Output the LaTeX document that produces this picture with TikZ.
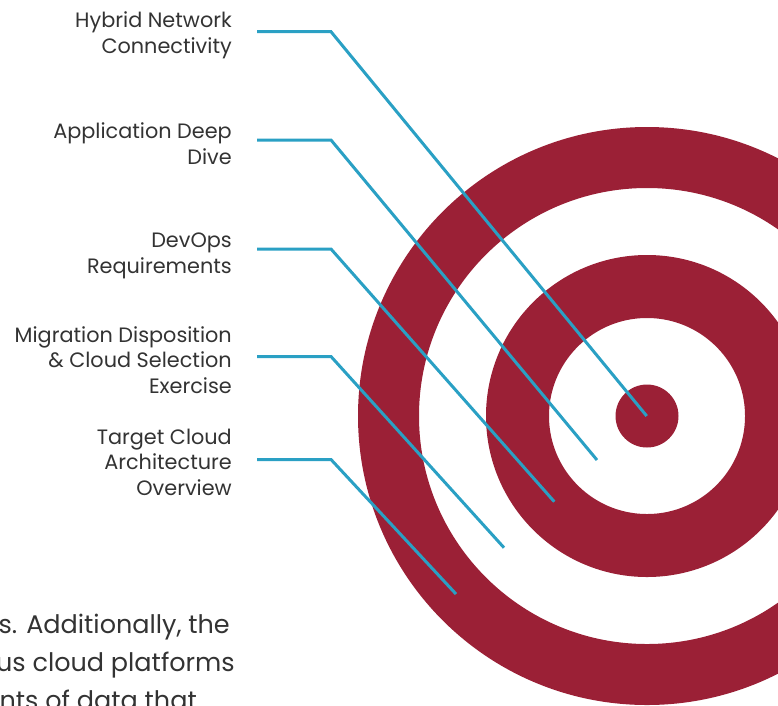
\documentclass[tikz,border=0pt]{standalone}
\usepackage{fontspec}
\setmainfont{Poppins}
\definecolor{ringred}{HTML}{9B2036}
\definecolor{lineblue}{HTML}{2AA0C4}
\definecolor{txt}{HTML}{333333}
\begin{document}
\begin{tikzpicture}[x=1pt,y=-1pt,
  lbl/.style={anchor=base east,align=right,inner sep=0pt,text=txt,
    font=\fontsize{20.8}{25.5}\selectfont},
  body/.style={anchor=base east,inner sep=0pt,text=txt,
    font=\fontsize{25.5}{38}\selectfont},
  ring/.style={draw=ringred,circle,inner sep=0pt},
  leader/.style={draw=lineblue,line width=3pt}]
\useasboundingbox (0,0) rectangle (778,705);
\clip (0,0) rectangle (778,705);
% target
\node[ring,line width=61pt,minimum size=517pt] (outer) at (647,416) {};
\node[ring,line width=63pt,minimum size=259pt] (middle) at (647,416) {};
\node[circle,fill=ringred,inner sep=0pt,minimum size=63pt] (bull) at (647,416) {};
% labels (anchored at the baseline of their last line)
\node[lbl] (l1) at (232,53.3) {Hybrid Network\\Connectivity};
\node[lbl] (l2) at (232,164) {Application Deep\\Dive};
\node[lbl] (l3) at (232,273.3) {DevOps\\Requirements};
\node[lbl] (l4) at (232,393.3) {Migration Disposition\\\&{} Cloud Selection\\Exercise};
\node[lbl] (l5) at (232,495) {Target Cloud\\Architecture\\Overview};
% leader coordinates
\coordinate (s1) at (257,31.7);  \coordinate (c1) at (331,31.7);  \coordinate (e1) at (646.7,416);
\coordinate (s2) at (257,140);   \coordinate (c2) at (331,140);   \coordinate (e2) at (597,460);
\coordinate (s3) at (257,249);   \coordinate (c3) at (331,249);   \coordinate (e3) at (554.3,501.7);
\coordinate (s4) at (257,356.5); \coordinate (c4) at (331,356.5); \coordinate (e4) at (504,547.7);
\coordinate (s5) at (257,459.5); \coordinate (c5) at (331,459.5); \coordinate (e5) at (456,594);
\foreach \i in {1,...,5} {\draw[leader] (s\i) -- (c\i) -- (e\i);}
% body text fragment
\node[body] (b1) at (230,633.3) {s. Additionally, the};
\node[body] (b2) at (235,671.7) {us cloud platforms};
\node[body] (b3) at (197,709.7) {nts of data that};
\end{tikzpicture}
\end{document}
